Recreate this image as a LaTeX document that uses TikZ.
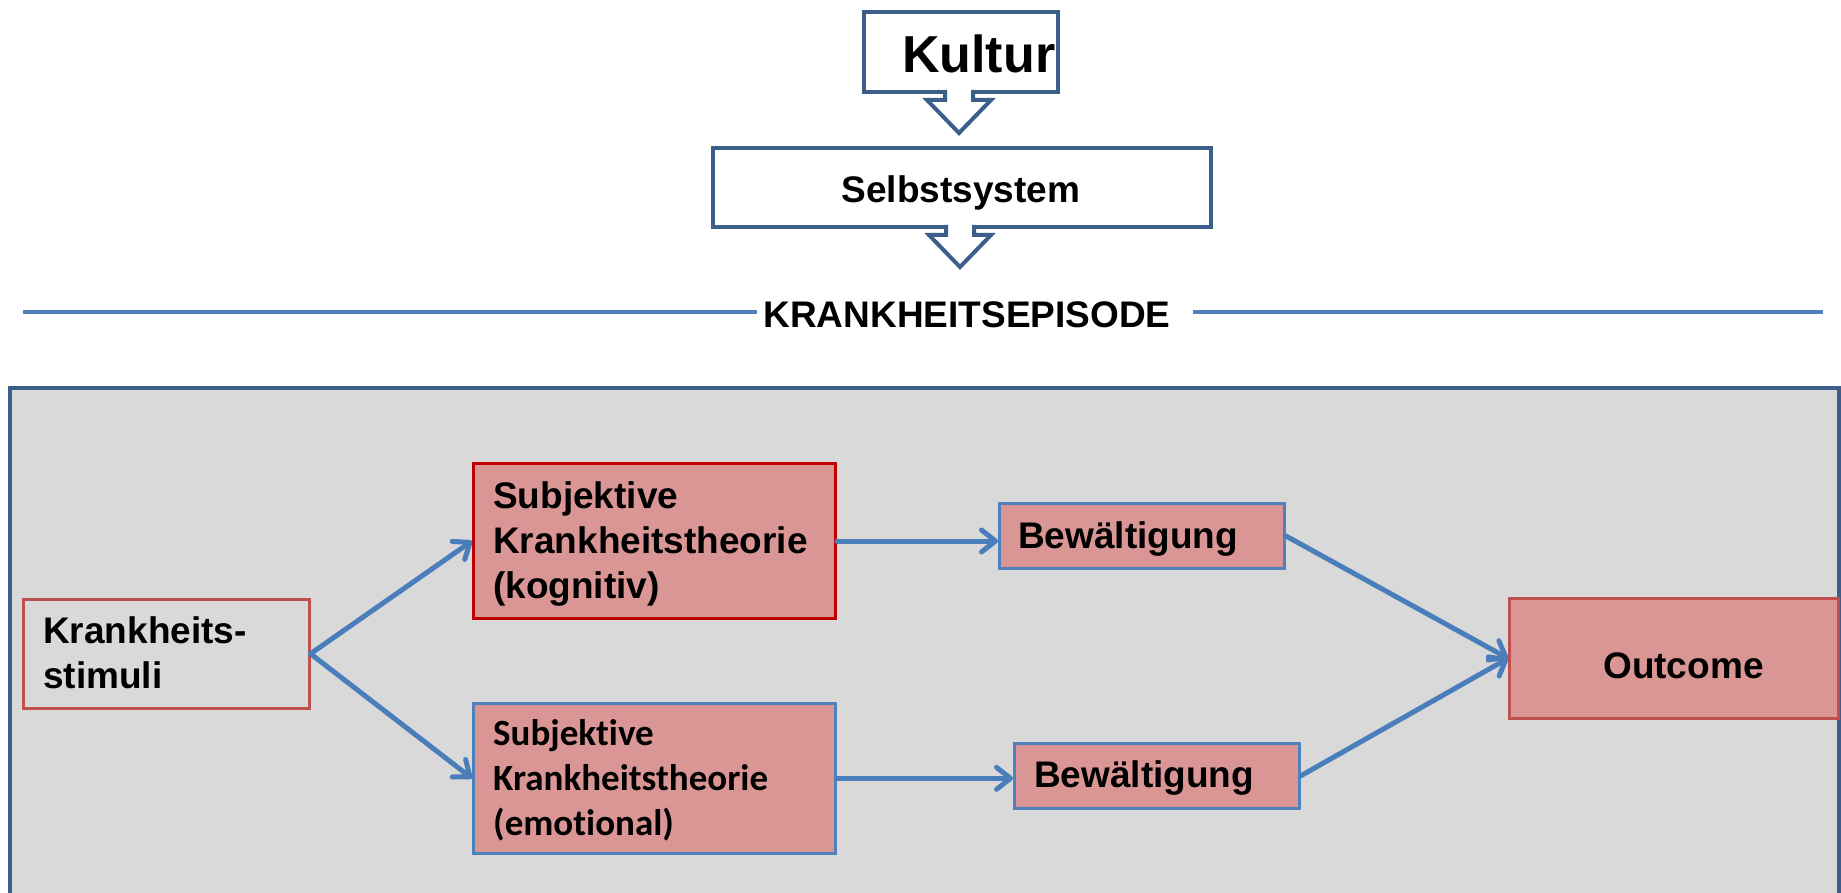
\documentclass[tikz,border=0pt]{standalone}
\usepackage{fontspec}
\setmainfont{Liberation Sans}
\newfontfamily\calib[Ligatures=NoCommon]{Carlito}
\usetikzlibrary{arrows.meta}
\definecolor{frameblue}{HTML}{3B5E8B}
\definecolor{lineblue}{HTML}{4F81BD}
\definecolor{arrblue}{HTML}{4A7EBB}
\definecolor{pinkfill}{HTML}{DA9694}
\definecolor{greyfill}{HTML}{D9D9D9}
\definecolor{darkred}{HTML}{C00000}
\definecolor{softred}{HTML}{C0504D}
\begin{document}
\begin{tikzpicture}[x=1pt,y=-1pt,
  box/.style={draw, rectangle, inner sep=0pt, anchor=north west},
  topbox/.style={box, draw=frameblue, line width=4pt, fill=white},
  pbox/.style={box, fill=pinkfill, draw=lineblue, line width=2.7pt},
  txt/.style={inner sep=0pt, font=\bfseries\fontsize{37}{45}\selectfont, align=left, anchor=base west},
  ctxt/.style={inner sep=0pt, font=\calib\bfseries\fontsize{37}{45}\selectfont, align=left, anchor=base west},
  conn/.style={draw=arrblue, line width=5pt, line cap=round, -{Straight Barb[length=14pt,width=22pt,round]}},
  blockarrow/.style={draw=frameblue, line width=4pt, line join=miter},
]
\useasboundingbox (0,0) rectangle (1841,893);
\clip (0,0) rectangle (1841,893);

% episode frame
\node[box, draw=frameblue, line width=4pt, fill=greyfill, minimum width=1829pt, minimum height=530pt] (episode) at (8,386) {};

% Kultur
\node[topbox, minimum width=194pt, minimum height=80pt] (kultur) at (862,10) {};
\fill[white] (947,86) rectangle (971,101);
\draw[blockarrow] (945,90) -- (945,100) -- (927,100) -- (959,133) -- (991,100) -- (973,100) -- (973,90);
\node[inner sep=0pt, anchor=base west, font=\bfseries\fontsize{52}{60}\selectfont] (kulturT) at (902,73) {Kultur};

% Selbstsystem
\node[topbox, minimum width=498pt, minimum height=79pt] (selbst) at (711,146) {};
\fill[white] (948,221) rectangle (972,236);
\draw[blockarrow] (946,225) -- (946,235) -- (929,235) -- (960,267) -- (991,235) -- (974,235) -- (974,225);
\node[txt, anchor=base] (selbstT) at (961,203) {Selbstsystem};

% Krankheitsepisode line
\node[txt, anchor=base] (epT) at (967,327) {KRANKHEITSEPISODE};
\draw[lineblue, line width=4.5pt] (23,312) -- (757,312);
\draw[lineblue, line width=4.5pt] (1193,312) -- (1823,312);

% boxes
\node[box, draw=softred, line width=2.5pt, fill=greyfill, minimum width=286pt, minimum height=109pt] (stim) at (22,598) {};
\node[txt] (stimT) at (43,688) {Krankheits-\\stimuli};

\node[pbox, draw=darkred, line width=3pt, minimum width=362pt, minimum height=155pt] (kog) at (472,462) {};
\node[txt] (kogT) at (493,598) {Subjektive\\Krankheitstheorie\\(kognitiv)};

\node[pbox, minimum width=362pt, minimum height=150pt] (emo) at (472,702) {};
\node[ctxt] (emoT) at (493,835) {Subjektive\\Krankheitstheorie\\(emotional)};

\node[pbox, minimum width=285pt, minimum height=65pt] (bew1) at (998,502) {};
\node[txt] (bew1T) at (1018,548) {Bewältigung};

\node[pbox, minimum width=285pt, minimum height=65pt] (bew2) at (1013,742) {};
\node[txt] (bew2T) at (1034,787) {Bewältigung};

\node[pbox, draw=softred, minimum width=329pt, minimum height=120pt] (out) at (1508,597) {};
\node[txt] (outT) at (1603,678) {Outcome};

% connectors
\draw[conn] (stim.east) -- (kog.west);
\draw[conn] (stim.east) -- (emo.west);
\draw[conn] (kog.east) -- (kog.east -| bew1.west);
\draw[conn] (emo.east) -- (emo.east -| bew2.west);
\draw[conn] (bew1.east) -- (out.west);
\draw[conn] (bew2.east) -- (out.west);
\end{tikzpicture}
\end{document}
